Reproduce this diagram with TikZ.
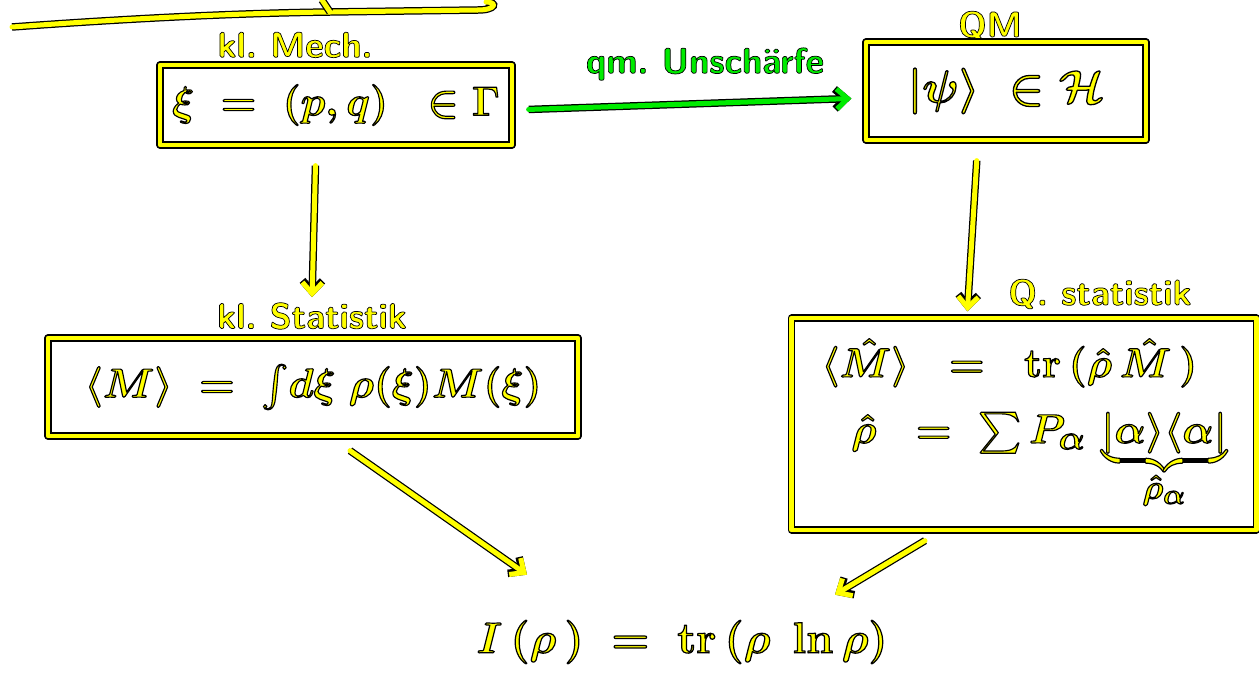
\documentclass[tikz,border=0pt]{standalone}
\usepackage{amsmath}
\usepackage{amssymb}
\usepackage{graphicx}
\usepackage{tikz}
\usetikzlibrary{arrows.meta}

\definecolor{hy}{RGB}{255,255,0}
\definecolor{hg}{RGB}{0,235,0}
\frenchspacing
% yellow letters with a black rim (fill + stroke)
\newcommand{\inked}[1]{\special{pdf:code 2 Tr 0 G 0.7 w 1 j}#1\special{pdf:code 0 Tr}}
\newcommand{\bigink}[1]{\scalebox{1.65}{\inked{#1}}}

\begin{document}
\begin{tikzpicture}[x=1pt,y=-1pt,
  ink/.style={draw=hy, line width=5pt, line cap=round, line join=round,
    preaction={draw=black, line width=7.5pt}},
  arr/.style={ink, -{Straight Barb[length=11pt,width=20pt]}},
  garr/.style={arr, draw=hg},
  box/.style={draw=black, line width=1.3pt, double=hy, double distance=4.5pt,
    line join=round, text=hy, inner sep=0pt},
  lbl/.style={text=hy, font=\fontsize{36}{40}\sffamily\bfseries\selectfont},
  glbl/.style={lbl, text=hg},
  frm/.style={font=\fontsize{24.88}{28}\selectfont\boldmath}]
\useasboundingbox (0,0) rectangle (1259,674);

% cut-off drawing at the top
\draw[ink] (12,27) .. controls (150,17) and (250,13) .. (330,12) -- (478,10);
\draw[ink] (322,0) -- (330,12);
\draw[ink] (478,10) .. controls (496,10) and (498,2) .. (486,2);

% classical side
\node[lbl] (mechlbl) at (295,45) {\inked{kl. Mech.}};
\node[box, frm, minimum width=352pt, minimum height=80pt] (mech) at (336,105)
  {\bigink{$\xi \;=\; (p,q) \;\;\in \Gamma$}};
\node[lbl] (kstatlbl) at (312,316) {\inked{kl. Statistik}};
\node[box, frm, minimum width=530pt, minimum height=98pt] (kstat) at (313,387)
  {\bigink{$\langle M\rangle \;=\; \int\! d\xi\; \rho(\xi)M(\xi)$}};

% quantum side
\node[lbl] (qmlbl) at (990,26) {\inked{QM}};
\node[box, frm, minimum width=280pt, minimum height=98pt] (qm) at (1006,91)
  {\scalebox{1.85}{\inked{$|\psi\rangle \;\in \mathcal{H}$}}};
\node[lbl] (qstatlbl) at (1100,294) {\inked{Q. statistik}};
\node[box, frm, align=left, minimum width=465pt, minimum height=212pt] (qstat) at (1024,424)
  {\bigink{$\langle\hat M\rangle \;\;=\;\; \mathrm{tr}\,(\hat\rho\,\hat M\,)$}\\[24pt]
   \hspace{30pt}\bigink{$\hat\rho \;\;=\; \sum P_\alpha\, \underbrace{|\alpha\rangle\langle\alpha|}_{\hat\rho_\alpha}$}};

% information
\node[frm, text=hy] (info) at (682,642)
  {\scalebox{1.75}{\inked{$I\,(\rho\,) \;=\; \mathrm{tr}\,(\rho\;\ln\rho)$}}};

% connectors
\node[glbl] (unsch) at (705,64) {\inked{qm. Unschärfe}};
\draw[garr, shorten <=16pt, shorten >=14pt] ([yshift=-5pt]mech.east) -- ([yshift=-7pt]qm.west);
\draw[arr, shorten <=20pt, shorten >=2pt] ([xshift=-20pt]mech.south) -- (kstatlbl.north);
\draw[arr, shorten <=20pt, shorten >=6pt] ([xshift=-28pt]qm.south) -- ([xshift=-57pt]qstat.north);
\draw[arr] ([xshift=37pt,yshift=-14pt]kstat.south) -- ([xshift=-155pt,yshift=42pt]info.north);
\draw[arr] ([xshift=-99pt,yshift=-10pt]qstat.south) -- ([xshift=153pt,yshift=22pt]info.north);
\end{tikzpicture}
\end{document}
